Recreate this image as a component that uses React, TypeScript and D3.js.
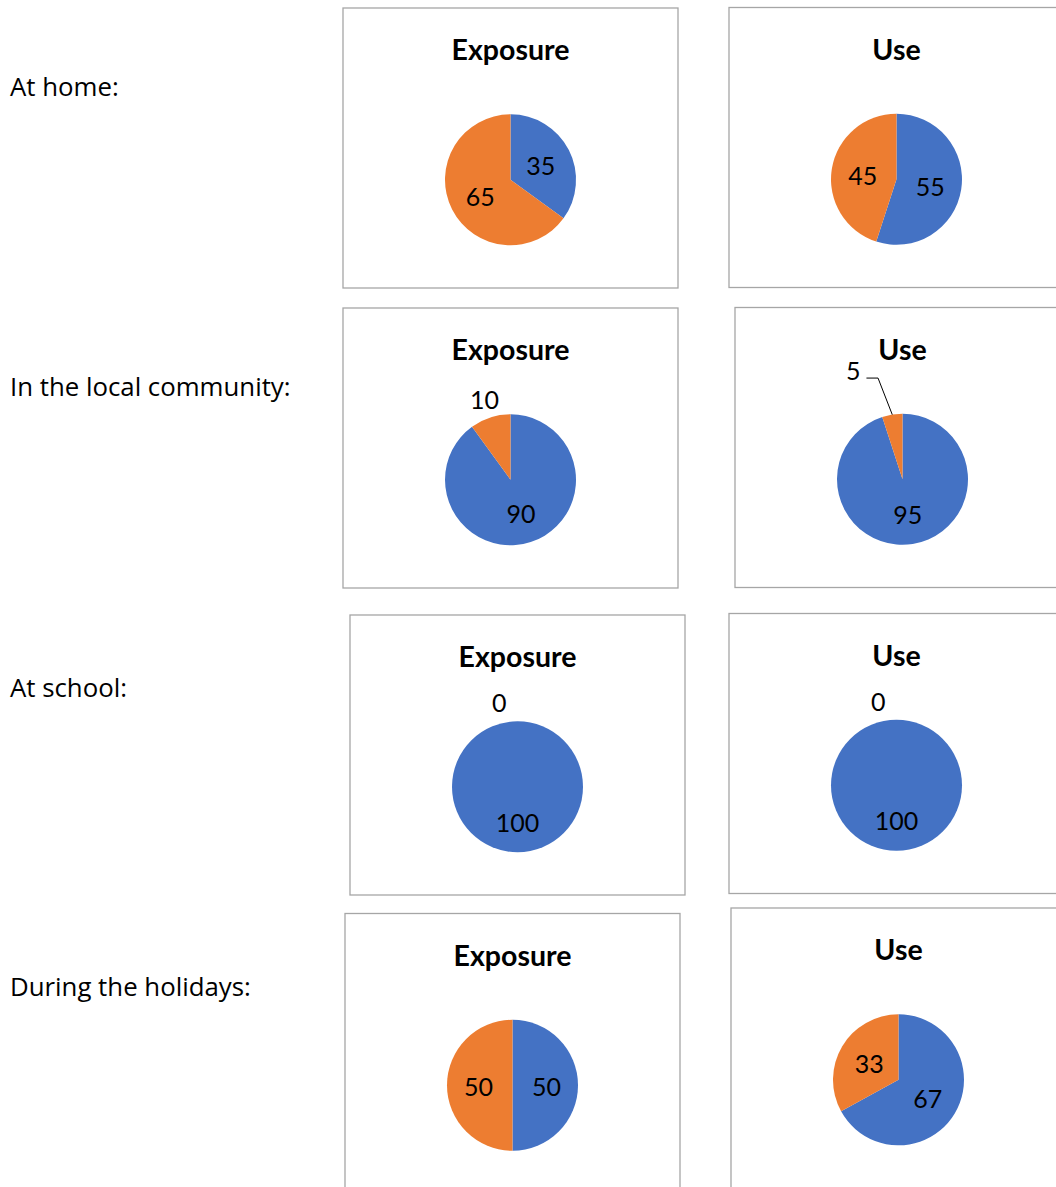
import React from "react";
import * as d3 from "d3";

// ---- data ----
const contexts = ["At home:", "In the local community:", "At school:", "During the holidays:"];
const measures = ["Exposure", "Use"];
const exposureBlue = [35, 90, 100, 50];
const exposureOrange = [65, 10, 0, 50];
const useBlue = [55, 95, 100, 67];
const useOrange = [45, 5, 0, 33];
const seriesColors = ["#4472C4", "#ED7D31"];

// ---- layout (not data) ----
const W = 1056;
const H = 1187;
const panelW = 335;
const panelH = 280;
const radius = 65.5;
// top-left corner of each chart frame, row by row: [Exposure, Use]
const panelOrigins: [number, number][][] = [
  [[343, 8], [729, 7.5]],
  [[343, 308], [735, 307.5]],
  [[350, 615], [729, 613.5]],
  [[345, 913.5], [731, 908]],
];
const rowLabelBaselines = [96, 396, 697, 996];

const labelFont = "Lato, 'Open Sans', sans-serif";
const dataFontSize = 25;

function PiePanel({ x, y, title, values }: { x: number; y: number; title: string; values: number[] }) {
  const cx = x + panelW / 2;
  const cy = y + 171.8;
  const pie = d3.pie<number>().sort(null).value((d) => d);
  const arcs = pie(values);
  const arc = d3.arc<d3.PieArcDatum<number>>().innerRadius(0).outerRadius(radius);
  const inner = d3.arc<d3.PieArcDatum<number>>().innerRadius(radius * 0.52).outerRadius(radius * 0.52);

  const labels = arcs.map((a, i) => {
    const span = a.endAngle - a.startAngle;
    const mid = (a.startAngle + a.endAngle) / 2;
    const txt = String(a.data);
    if (span >= 1.0) {
      const [lx, ly] = inner.centroid(a);
      return (
        <text key={"l" + i} x={cx + lx} y={cy + ly + 11} textAnchor="middle" fontSize={dataFontSize} fontFamily={labelFont} fill="#000">
          {txt}
        </text>
      );
    }
    if (span === 0) {
      const d = radius + 18;
      const ly = -Math.cos(mid) * d;
      return (
        <text key={"l" + i} x={cx - 11} y={cy + ly + 9} textAnchor="end" fontSize={dataFontSize} fontFamily={labelFont} fill="#000">
          {txt}
        </text>
      );
    }
    if (span >= 0.5) {
      const d = radius + 18.7;
      return (
        <text key={"l" + i} x={cx + Math.sin(mid) * d} y={cy - Math.cos(mid) * d + 9} textAnchor="middle" fontSize={dataFontSize} fontFamily={labelFont} fill="#000">
          {txt}
        </text>
      );
    }
    // small slice: callout with leader line
    const px = cx + Math.sin(mid) * radius;
    const py = cy - Math.cos(mid) * radius;
    const ea = mid - 0.08;
    const ex = cx + Math.sin(ea) * radius * 1.59;
    const ey = cy - Math.cos(ea) * radius * 1.59;
    const hx = ex - 11.6;
    return (
      <g key={"l" + i}>
        <polyline points={`${px},${py} ${ex},${ey} ${hx},${ey}`} fill="none" stroke="#000" strokeWidth={1} />
        <text x={hx - 6} y={ey + 2} textAnchor="end" fontSize={dataFontSize} fontFamily={labelFont} fill="#000">
          {txt}
        </text>
      </g>
    );
  });

  return (
    <g>
      <rect x={x} y={y} width={panelW} height={panelH} fill="#fff" stroke="#a6a6a6" strokeWidth={1.3} />
      <text x={cx} y={y + 52} textAnchor="middle" fontSize={28.5} fontWeight="bold" fontFamily={labelFont} fill="#000">
        {title}
      </text>
      {arcs.map((a, i) =>
        a.endAngle - a.startAngle > 0 ? (
          <path key={i} d={arc(a) || ""} transform={`translate(${cx},${cy})`} fill={seriesColors[i]} />
        ) : null
      )}
      {labels}
    </g>
  );
}

export default function App() {
  const rows = contexts.map((c, r) => ({
    label: c,
    exposure: [exposureBlue[r], exposureOrange[r]],
    use: [useBlue[r], useOrange[r]],
  }));
  return (
    <svg width={W} height={H} style={{ position: "absolute", left: 0, top: 0, display: "block", background: "#fff" }}>
      <rect x={0} y={0} width={W} height={H} fill="#fff" />
      {rows.map((row, r) => (
        <g key={r}>
          <text x={10} y={rowLabelBaselines[r]} fontSize={25.8} fontFamily="'Open Sans', sans-serif" fill="#000">
            {row.label}
          </text>
          <PiePanel x={panelOrigins[r][0][0]} y={panelOrigins[r][0][1]} title={measures[0]} values={row.exposure} />
          <PiePanel x={panelOrigins[r][1][0]} y={panelOrigins[r][1][1]} title={measures[1]} values={row.use} />
        </g>
      ))}
    </svg>
  );
}
